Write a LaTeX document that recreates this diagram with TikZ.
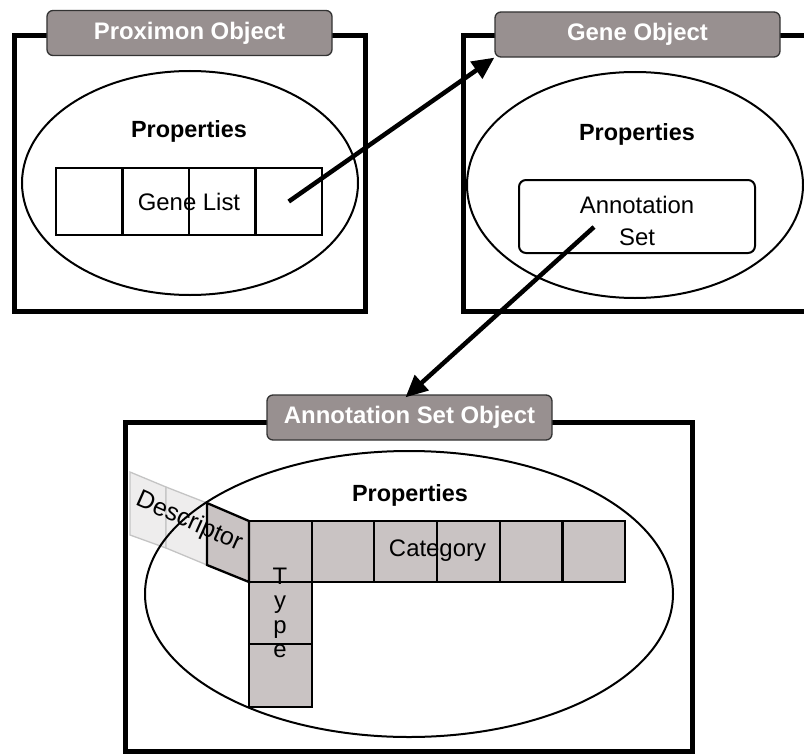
\documentclass[tikz,border=0pt]{standalone}
\usepackage{fontspec}
\setmainfont{Liberation Sans}
\usetikzlibrary{arrows.meta}
\definecolor{lblgray}{HTML}{989090}
\definecolor{cellgray}{HTML}{C9C3C3}
\definecolor{lightcell}{HTML}{EEEDED}
\definecolor{lightedge}{HTML}{C4C4C4}
\begin{document}
\begin{tikzpicture}[x=1bp,y=-1bp,
  objbox/.style={line width=5bp},
  lbl/.style={draw=black!80, line width=1.3bp, fill=lblgray, rounded corners=6bp, text=white,
    font=\fontsize{24}{28}\selectfont\bfseries, minimum width=285bp, minimum height=45bp, inner sep=0pt},
  props/.style={font=\fontsize{23.5}{27}\selectfont\bfseries},
  txt/.style={font=\fontsize{24}{28}\selectfont},
  cellw/.style={draw, line width=2.3bp, fill=white, minimum width=66.5bp, minimum height=67bp, inner sep=0pt},
  cellg/.style={draw, line width=2.3bp, fill=cellgray, minimum width=62.67bp, inner sep=0pt},
  propell/.style={line width=2bp},
  arr/.style={line width=4.5bp, -{Triangle[length=22bp, width=20bp]}}
]
\clip (0,0) rectangle (804,755);
% object frames
\draw[objbox] (14,36) rectangle (365,311);
\draw[objbox] (463,36) rectangle (840,311);
\draw[objbox] (125,422) rectangle (692,751);
% labels
\node[lbl] (proxlbl) at (189.5,33) {Proximon Object};
\node[lbl] (genelbl) at (637.5,34.5) {Gene Object};
\node[lbl] (annlbl) at (409.5,417.5) {Annotation Set Object};
% descriptor (light part)
\draw[lightedge, fill=lightcell, line width=1.3bp] (130,472) -- (166,487) -- (166,548) -- (130,535) -- cycle;
\draw[lightedge, fill=lightcell, line width=1.3bp] (166,487) -- (207,503) -- (207,565) -- (166,548) -- cycle;
% ellipses
\draw[propell] (190,183) ellipse [x radius=168, y radius=112];
\draw[propell] (635,185) ellipse [x radius=168, y radius=113];
\draw[propell] (409,594) ellipse [x radius=264, y radius=143];
% properties titles
\node[props] (p1) at (189,131) {Properties};
\node[props] (p2) at (637,134) {Properties};
\node[props] (p3) at (410,495) {Properties};
% gene list
\foreach \i/\x in {1/89.25,2/155.75,3/222.25,4/288.75}
  \node[cellw] (gl\i) at (\x,201.5) {};
\node[txt] (gltxt) at (189,201.5) {Gene List};
% annotation set
\node[draw, line width=2bp, rounded corners=7bp, minimum width=236bp, minimum height=73bp, inner sep=0pt] (annset) at (637,216.5) {};
\node[txt, align=center, font=\fontsize{24}{32}\selectfont] (anntxt) at (637,221) {Annotation\\Set};
% category row
\foreach \i in {0,...,5}
  \node[cellg, minimum height=61.5bp] (c\i) at ({280.33+62.67*\i},551.5) {};
\node[cellg, minimum height=62bp] (t1) at (280.33,613) {};
\node[cellg, minimum height=63bp] (t2) at (280.33,675.5) {};
\draw[line width=2.3bp, fill=cellgray] (207,503) -- (249,521) -- (249,582) -- (207,565) -- cycle;
\node[txt] (cattxt) at (437.5,551) {Category};
\node[txt, align=center, font=\fontsize{24}{24.5}\selectfont] (typetxt) at (280,613) {T\\y\\p\\e};
\node[txt, rotate=-24, font=\fontsize{25}{28}\selectfont] (desctxt) at (189,522) {Descriptor};
% arrows
\coordinate (a2s) at (594,227);
\draw[arr] (gl4.center) -- (genelbl.south west);
\draw[arr] (a2s) -- ([xshift=-4bp,yshift=-3bp]annlbl.north);
\end{tikzpicture}
\end{document}
